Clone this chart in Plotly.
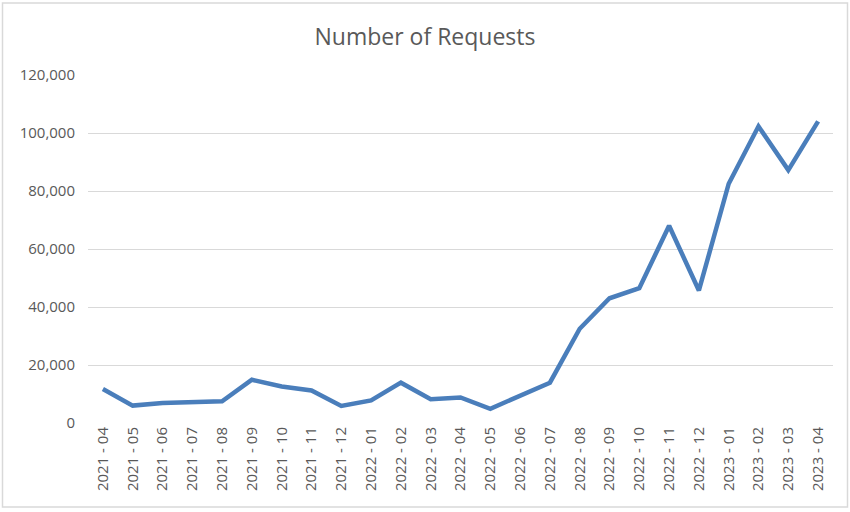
import plotly.graph_objects as go

months = ["2021 - 04", "2021 - 05", "2021 - 06", "2021 - 07", "2021 - 08", "2021 - 09",
          "2021 - 10", "2021 - 11", "2021 - 12", "2022 - 01", "2022 - 02", "2022 - 03",
          "2022 - 04", "2022 - 05", "2022 - 06", "2022 - 07", "2022 - 08", "2022 - 09",
          "2022 - 10", "2022 - 11", "2022 - 12", "2023 - 01", "2023 - 02", "2023 - 03",
          "2023 - 04"]
requests = [11700, 6000, 6900, 7200, 7500, 14900, 12600, 11200, 5900, 7800, 13900, 8200,
            8800, 4900, 9300, 13900, 32500, 43000, 46500, 68000, 45700, 82500, 102300,
            87200, 104000]
y_ticks = [0, 20000, 40000, 60000, 80000, 100000, 120000]

W, H = 850, 512
L, R, T, B = 88, 17, 75, 89
pw, ph = W - L - R, H - T - B

fig = go.Figure()
fig.add_trace(go.Scatter(
    x=months, y=requests, mode="lines",
    line=dict(color="#4a7ebb", width=4.5),
    hoverinfo="x+y",
))

font_fam = "Open Sans, Liberation Sans, sans-serif"
fig.update_layout(
    width=W, height=H,
    margin=dict(l=L, r=R, t=T, b=B, autoexpand=False),
    paper_bgcolor="white", plot_bgcolor="white",
    showlegend=False,
    title=dict(text="Number of Requests", x=0.5, xanchor="center",
               y=1 - 37 / H, yanchor="middle",
               font=dict(family=font_fam, size=23, color="#595959")),
    xaxis=dict(type="category", range=[-0.5, len(months) - 0.5],
               tickangle=-90, showgrid=False, zeroline=False,
               showline=False, ticks="", automargin=False,
               tickfont=dict(family=font_fam, size=15, color="#595959")),
    yaxis=dict(range=[0, 120000], tickvals=y_ticks, tickformat=",d",
               showgrid=True, gridcolor="#d9d9d9", gridwidth=1.3,
               zeroline=False, showline=False, ticks="", automargin=False,
               ticklabelstandoff=12,
               tickfont=dict(family=font_fam, size=15, color="#595959")),
    shapes=[dict(type="rect", xref="paper", yref="paper",
                 x0=(2.5 - L) / pw, x1=(847.5 - L) / pw,
                 y0=(H - B - 507) / ph, y1=(H - B - 3) / ph,
                 line=dict(color="#d9d9d9", width=1.5), layer="below")],
)

fig.write_html("out.html",
               config={"displayModeBar": False},
               post_script="document.body.style.margin='0px';document.body.style.overflow='hidden';")
